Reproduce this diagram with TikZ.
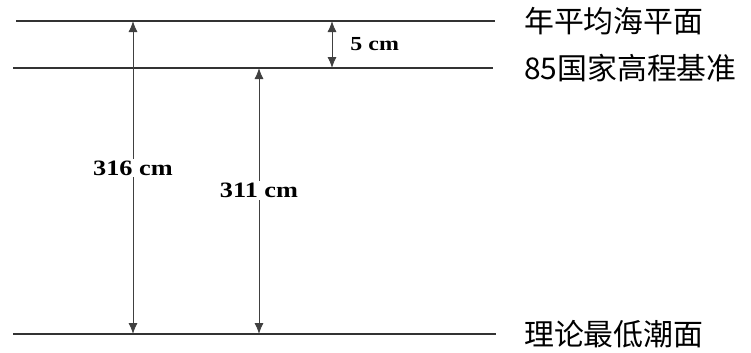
\documentclass[tikz,border=0pt]{standalone}
\usepackage{fontspec}
\setmainfont{Liberation Serif}
\newfontfamily\cjk{Noto Sans CJK SC}
\newfontfamily\dimfont[FakeStretch=1.2]{Liberation Serif}
\usetikzlibrary{positioning,arrows.meta}

\begin{document}
\begin{tikzpicture}[
  x=1bp, y=-1bp,
  level/.style={line width=2bp, draw=black!80},
  dim/.style={{Latex[length=11bp,width=9bp]}-{Latex[length=11bp,width=9bp]}, line width=0.9bp, draw=black!75},
  dimlabel/.style={fill=white, inner sep=2bp, font=\dimfont\bfseries\fontsize{22}{24}\selectfont},
  levelname/.style={anchor=west, inner sep=0pt, font=\cjk\fontsize{30}{32}\selectfont, text=black}
]
\useasboundingbox (0,0) rectangle (751,352);
% ── level lines ──────────────────────────────────────────────────────────────
\coordinate (meanL) at (16,21);   \coordinate (meanR) at (495,21);
\coordinate (datumL) at (13,68);  \coordinate (datumR) at (493,68);
\coordinate (lowL) at (13,334);   \coordinate (lowR) at (496,334);
\draw[level] (meanL) -- (meanR);
\draw[level] (datumL) -- (datumR);
\draw[level] (lowL) -- (lowR);

% ── level names ──────────────────────────────────────────────────────────────
\node[levelname] (mean) at (524,21) {年平均海平面};
\node[levelname] (datum) at (524,68) {85国家高程基准};
\node[levelname] (low) at (524,334) {理论最低潮面};

% ── dimensions ───────────────────────────────────────────────────────────────
\coordinate (a316top) at (133,21);  \coordinate (a316bot) at (133,334);
\coordinate (a311top) at (259,68);  \coordinate (a311bot) at (259,334);
\coordinate (a5top) at (332,21);    \coordinate (a5bot) at (332,68);
\draw[dim] (a316top) -- (a316bot) node[dimlabel, pos=0.47] (l316) {316 cm};
\draw[dim] (a311top) -- (a311bot) node[dimlabel, pos=0.46] (l311) {311 cm};
\draw[dim] (a5top) -- (a5bot) node[dimlabel, midway, right=16bp, fill=none, font=\dimfont\bfseries\fontsize{20}{22}\selectfont] (l5) {5 cm};
\end{tikzpicture}
\end{document}
